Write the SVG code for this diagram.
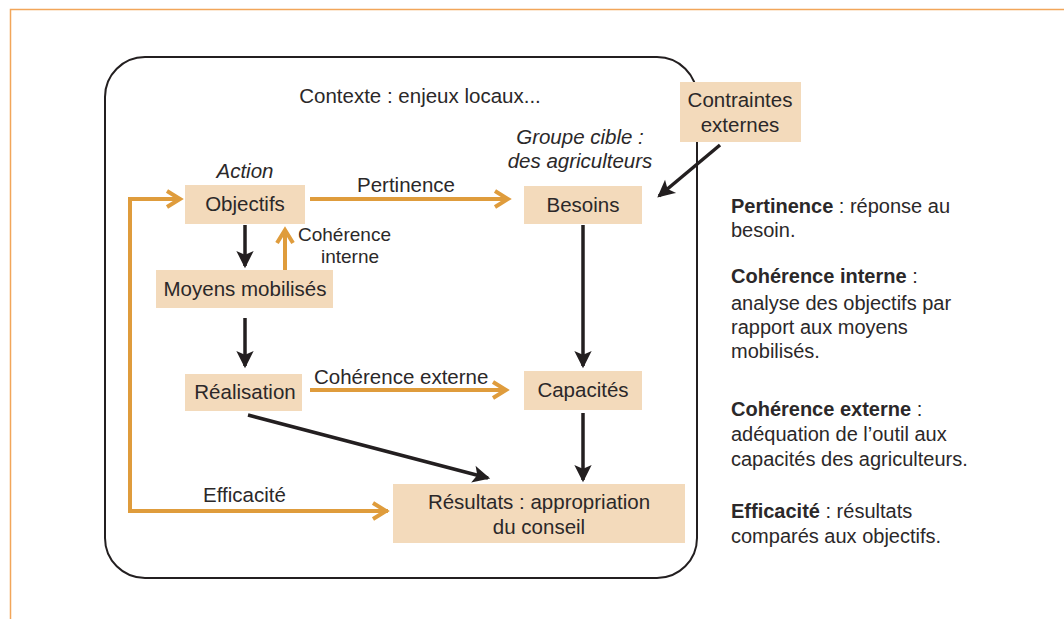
<svg xmlns="http://www.w3.org/2000/svg" width="1064" height="619" viewBox="0 0 1064 619">
<style>
text{font-family:"Liberation Sans",Arial,sans-serif;font-size:20px;fill:#2b2829}
.d{font-size:20.5px}
.s{font-size:19px}
.c{text-anchor:middle}
.i{font-style:italic}
.b{font-weight:bold}
.box{fill:#F3DABB}
.o{stroke:#DF9C3C;stroke-width:4;fill:none}
.k{stroke:#231F20;stroke-width:3.5;fill:none}
</style>
<defs>
<marker id="ao" markerUnits="userSpaceOnUse" markerWidth="30" markerHeight="30" viewBox="-20 -15 30 30" refX="0" refY="0" orient="auto">
<path d="M-13,-8 L0,0 L-13,8" fill="none" stroke="#DF9C3C" stroke-width="4"/>
</marker>
<marker id="ak" markerUnits="userSpaceOnUse" markerWidth="30" markerHeight="30" viewBox="-20 -15 30 30" refX="0" refY="0" orient="auto">
<path d="M-13,-6.5 L0,0 L-13,6.5 L-10,0 Z" fill="#231F20" stroke="#231F20" stroke-width="2" stroke-linejoin="miter"/>
</marker>
</defs>
<rect width="1064" height="619" fill="#fff"/>
<path d="M10.5,619 V9.5 H1064" fill="none" stroke="#F2A65A" stroke-width="1.5"/>
<rect id="context" x="105" y="57" width="592" height="521" rx="40" fill="none" stroke="#231F20" stroke-width="2"/>
<text class="c d" x="420" y="103">Contexte : enjeux locaux...</text>
<text class="c i d" x="245" y="178">Action</text>
<text class="c i d" x="580" y="144">Groupe cible :</text>
<text class="c i d" x="580" y="168">des agriculteurs</text>

<g id="connectors">
<path class="k" d="M245,225 V266" marker-end="url(#ak)"/>
<path class="o" d="M285,270 V230" marker-end="url(#ao)"/>
<path class="k" d="M245,318 V366" marker-end="url(#ak)"/>
<path class="o" d="M310,199 H508" marker-end="url(#ao)"/>
<path class="o" d="M310,390 H506" marker-end="url(#ao)"/>
<path class="k" d="M583,225 V366" marker-end="url(#ak)"/>
<path class="k" d="M583,413 V480" marker-end="url(#ak)"/>
<path class="k" d="M248,415 L488,478" marker-end="url(#ak)"/>
<path class="k" d="M720,145 L659,196" marker-end="url(#ak)"/>
<path class="o" d="M388,511 H130 V199 H180" marker-end="url(#ao)"/>
<path class="o" d="M130,511 H386" marker-end="url(#ao)"/>
<text class="d" x="357" y="192">Pertinence</text>
<text class="s" x="298" y="241">Cohérence</text>
<text class="s c" x="350" y="263">interne</text>
<text class="d" x="314" y="384">Cohérence externe</text>
<text class="d" x="203" y="502">Efficacité</text>
</g>

<g id="objectifs"><rect class="box" x="185" y="185" width="120" height="39"/><text class="c d" x="245" y="211">Objectifs</text></g>
<g id="moyens"><rect class="box" x="156" y="270" width="177" height="38"/><text class="c d" x="245" y="296">Moyens mobilisés</text></g>
<g id="realisation"><rect class="box" x="185" y="374" width="117" height="37"/><text class="c d" x="245" y="399">Réalisation</text></g>
<g id="besoins"><rect class="box" x="524" y="186" width="118" height="38"/><text class="c d" x="583" y="212">Besoins</text></g>
<g id="capacites"><rect class="box" x="524" y="371" width="118" height="39"/><text class="c d" x="583" y="397">Capacités</text></g>
<g id="resultats"><rect class="box" x="393" y="484" width="292" height="59"/><text class="c d" x="539" y="509">Résultats : appropriation</text><text class="c d" x="539" y="534">du conseil</text></g>
<g id="contraintes"><rect class="box" x="680" y="82" width="121" height="60"/><text class="c d" x="740" y="107">Contraintes</text><text class="c d" x="740" y="132">externes</text></g>

<g id="legend">
<text x="731" y="213"><tspan class="b">Pertinence</tspan> : réponse au</text>
<text x="731" y="237">besoin.</text>
<text x="731" y="283"><tspan class="b">Cohérence interne</tspan> :</text>
<text x="731" y="310">analyse des objectifs par</text>
<text x="731" y="334">rapport aux moyens</text>
<text x="731" y="358">mobilisés.</text>
<text x="731" y="416"><tspan class="b">Cohérence externe</tspan> :</text>
<text x="731" y="441">adéquation de l’outil aux</text>
<text x="731" y="466">capacités des agriculteurs.</text>
<text x="731" y="518"><tspan class="b">Efficacité</tspan> : résultats</text>
<text x="731" y="543">comparés aux objectifs.</text>
</g>
</svg>
